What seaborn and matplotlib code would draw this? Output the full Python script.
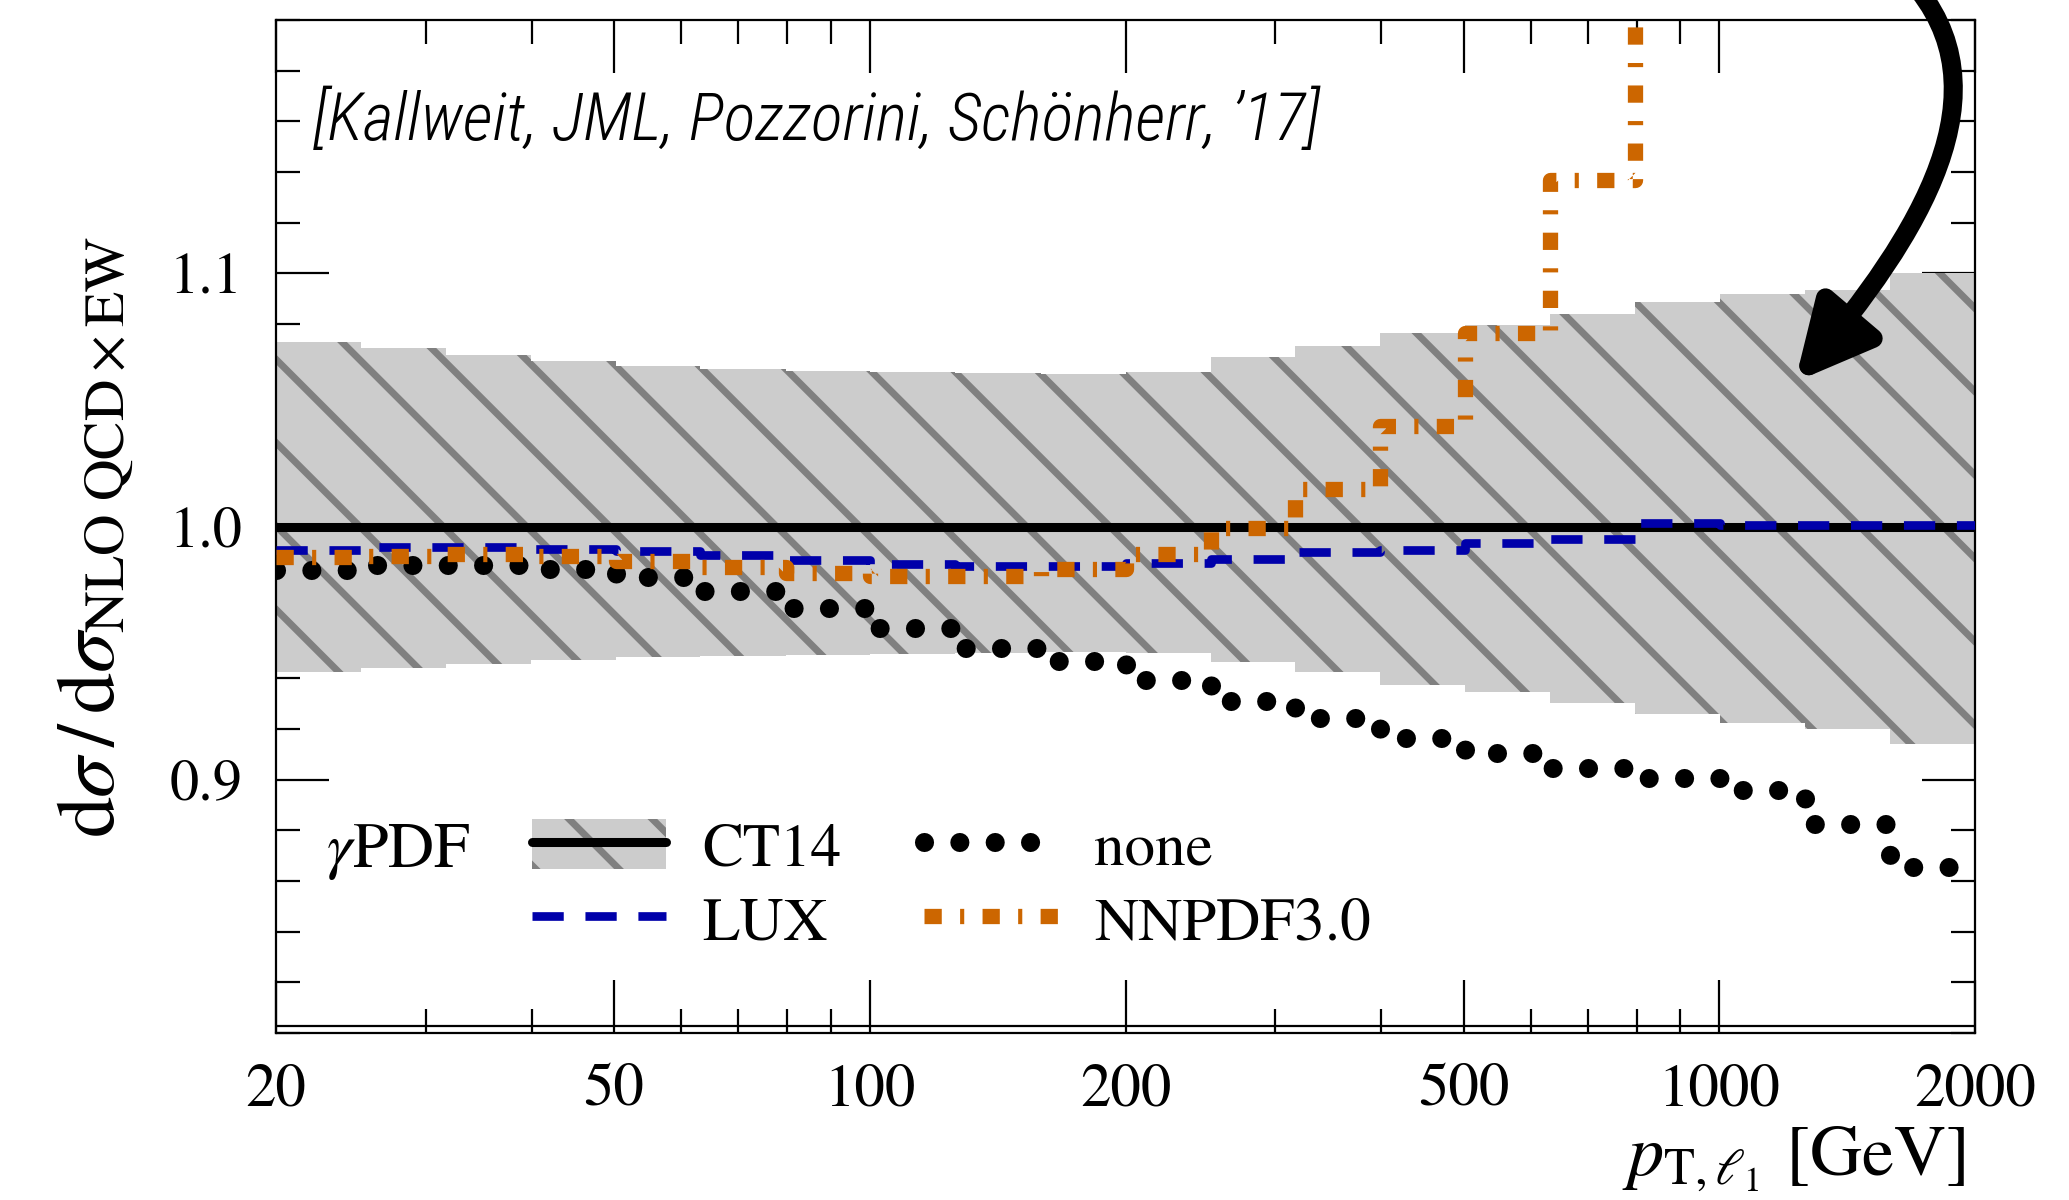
import matplotlib
matplotlib.use("Agg")
import matplotlib.pyplot as plt
import numpy as np
import pandas as pd
import seaborn as sns
from matplotlib import font_manager
from matplotlib.ticker import FixedLocator, FixedFormatter, LogLocator, MultipleLocator, NullFormatter
from matplotlib.patches import Patch, FancyArrowPatch, ArrowStyle
from matplotlib.lines import Line2D
from matplotlib.path import Path
from matplotlib.legend_handler import HandlerTuple

# leading-lepton pT bin edges [GeV]
pt_edges = [20, 25.2, 31.7, 39.9, 50.2, 63.2, 79.6, 100, 126, 159, 200,
            252, 317, 399, 502, 632, 796, 1002, 1262, 1589, 2000]

# ratio to NLO QCDxEW with CT14 photon PDF (central value and uncertainty band)
ct14_central = [1.0, 1.0, 1.0, 1.0, 1.0, 1.0, 1.0, 1.0, 1.0, 1.0,
                1.0, 1.0, 1.0, 1.0, 1.0, 1.0, 1.0, 1.0, 1.0, 1.0]
ct14_upper = [1.0730, 1.0705, 1.0678, 1.0655, 1.0635, 1.0622, 1.0615, 1.0610, 1.0607, 1.0603,
              1.0612, 1.0668, 1.0712, 1.0765, 1.0795, 1.0840, 1.0885, 1.0920, 1.0935, 1.1000]
ct14_lower = [0.9425, 0.9440, 0.9458, 0.9474, 0.9484, 0.9490, 0.9494, 0.9497, 0.9500, 0.9503,
              0.9501, 0.9464, 0.9425, 0.9375, 0.9346, 0.9305, 0.9260, 0.9225, 0.9200, 0.9140]

# other photon PDF choices
lux_ratio = [0.9907, 0.9918, 0.9920, 0.9912, 0.9905, 0.9888, 0.9867, 0.9852, 0.9846, 0.9846,
             0.9856, 0.9873, 0.9900, 0.9906, 0.9935, 0.9952, 1.0012, 1.0004, 1.0004, 1.0004]
none_ratio = [0.9830, 0.9847, 0.9848, 0.9832, 0.9800, 0.9745, 0.9677, 0.9600, 0.9520, 0.9470,
              0.9392, 0.9310, 0.9242, 0.9166, 0.9107, 0.9046, 0.9007, 0.8960, 0.8824, 0.8656]
# the last four NNPDF3.0 bins lie above the plotted range
nnpdf_ratio = [0.9880, 0.9885, 0.9890, 0.9885, 0.9865, 0.9840, 0.9818, 0.9803, 0.9805, 0.9832,
               0.9890, 0.9995, 1.0147, 1.0395, 1.0764, 1.1370, 1.2500, 1.3500, 1.4500, 1.5500]

xticks = [20, 50, 100, 200, 500, 1000, 2000]
xtick_labels = ["20", "50", "100", "200", "500", "1000", "2000"]

sns.set_theme(style="ticks")
plt.rcParams["font.family"] = ["STIXGeneral", "DejaVu Serif"]
plt.rcParams["mathtext.fontset"] = "stix"
plt.rcParams["text.color"] = "black"
plt.rcParams["axes.labelcolor"] = "black"
plt.rcParams["hatch.color"] = "#808080"
plt.rcParams["hatch.linewidth"] = 2.0

DPI = 250
BAND = "#cccccc"
HATCH = "\\"
BLUE = "#0000aa"
ORANGE = "#cc6600"
DOTS = (0, (0.001, 1.85))
DASH = (0, (3.6, 2.5))
DASHDOT = (0, (1.13, 1.2, 0.27, 1.2))

# light, narrow italic face for the citation tag
try:
    font_manager.findfont(font_manager.FontProperties(family="Roboto Condensed"),
                          fallback_to_default=False)
    CITE_FONT, CITE_SIZE = "Roboto Condensed", 19.2
except ValueError:
    CITE_FONT, CITE_SIZE = "Roboto", 16.5

fig = plt.figure(figsize=(2069 / DPI, 1200 / DPI), dpi=DPI)
ax = fig.add_axes([0.1334, 0.13917, 0.82117, 0.84416])
ax.set_xscale("log")


def stairs(values):
    return pd.DataFrame({"pt": pt_edges, "ratio": list(values) + [values[-1]]})


# CT14 uncertainty band
ax.fill_between(pt_edges, ct14_lower + [ct14_lower[-1]], ct14_upper + [ct14_upper[-1]],
                step="post", facecolor=BAND, edgecolor="#808080", hatch=HATCH,
                linewidth=0, zorder=1)

sns.lineplot(data=stairs(ct14_central), x="pt", y="ratio", ax=ax, drawstyle="steps-post",
             color="black", linewidth=2.6, zorder=3)
sns.lineplot(data=stairs(none_ratio), x="pt", y="ratio", ax=ax, drawstyle="steps-post",
             color="black", linewidth=5.5, linestyle=DOTS,
             dash_capstyle="round", zorder=4)
sns.lineplot(data=stairs(lux_ratio), x="pt", y="ratio", ax=ax, drawstyle="steps-post",
             color=BLUE, linewidth=2.5, linestyle=DASH, zorder=5)
sns.lineplot(data=stairs(nnpdf_ratio), x="pt", y="ratio", ax=ax, drawstyle="steps-post",
             color=ORANGE, linewidth=4.4, linestyle=DASHDOT, zorder=6)

# second baseline just above the lower frame
ax.axhline(0.80275, color="black", linewidth=0.64, zorder=7)

ax.set_xlim(20, 2000)
ax.set_ylim(0.8, 1.2)

ax.xaxis.set_major_locator(FixedLocator(xticks))
ax.xaxis.set_major_formatter(FixedFormatter(xtick_labels))
ax.xaxis.set_minor_locator(LogLocator(base=10, subs=[2, 3, 4, 5, 6, 7, 8, 9]))
ax.xaxis.set_minor_formatter(NullFormatter())
ax.yaxis.set_major_locator(FixedLocator([0.9, 1.0, 1.1]))
ax.yaxis.set_major_formatter(FixedFormatter(["0.9", "1.0", "1.1"]))
ax.yaxis.set_minor_locator(MultipleLocator(0.02))

ax.tick_params(which="both", direction="in", top=True, right=True, color="black",
               width=0.64, labelsize=16.8, labelcolor="black")
ax.tick_params(axis="x", which="both", labelsize=17.5)
ax.tick_params(which="major", length=15.2, pad=9.6)
ax.tick_params(which="minor", length=7.0)
ax.tick_params(axis="x", which="major", pad=9.0)
for side in ("left", "right", "top", "bottom"):
    ax.spines[side].set_color("black")
    ax.spines[side].set_linewidth(0.64)
ax.set_facecolor("white")
ax.grid(False)

ax.set_ylabel(r"$\mathrm{d}\sigma\,/\,\mathrm{d}\sigma_{\mathrm{NLO\ QCD}\times\mathrm{EW}}$",
              fontsize=23.6, labelpad=10)
ax.yaxis.label.set_y(0.49)
ax.set_xlabel(r"$p_{\mathrm{T},\ell_1}$ [GeV]", fontsize=20.8, loc="right", labelpad=1.6)
ax.xaxis.label.set_x(0.9945)

ax.text(0.0218, 0.8815, "[Kallweit, JML, Pozzorini, Sch\u00f6nherr, \u201917]",
        transform=ax.transAxes, ha="left", va="baseline", fontsize=CITE_SIZE, color="black",
        family=[CITE_FONT, "Lato", "DejaVu Sans"], style="italic", weight="light")

# legend
ct14_handle = (Patch(facecolor=BAND, edgecolor="#808080", hatch=HATCH, linewidth=0),
               Line2D([], [], color="black", linewidth=2.6))
lux_handle = Line2D([], [], color=BLUE, linewidth=2.5, linestyle=DASH)
none_handle = Line2D([], [], color="black", linewidth=5.5, linestyle=DOTS,
                     dash_capstyle="round")
nnpdf_handle = Line2D([], [], color=ORANGE, linewidth=4.4, linestyle=DASHDOT)
leg = ax.legend([ct14_handle, lux_handle, none_handle, nnpdf_handle],
                ["CT14", "LUX", "none", "NNPDF3.0"], ncol=2, loc="upper left",
                bbox_to_anchor=(0.1507, 0.2116), borderaxespad=0, borderpad=0,
                frameon=False, fontsize=17.6, handlelength=2.19, handleheight=0.9,
                handletextpad=0.59, columnspacing=1.36, labelspacing=0.24,
                handler_map={tuple: HandlerTuple(ndivide=1, pad=0)})
leg.set_zorder(10)
ax.text(0.0294, 0.1639, r"$\gamma$PDF", transform=ax.transAxes, ha="left",
        va="baseline", fontsize=18.4)

# curved arrow pointing into the band
arrow_path = Path([(0.92315, 1.01667), (0.97148, 0.925), (0.92798, 0.80417), (0.86757, 0.68167)],
                  [Path.MOVETO, Path.CURVE4, Path.CURVE4, Path.CURVE4])
arrow = FancyArrowPatch(path=arrow_path, transform=fig.transFigure,
                        arrowstyle=ArrowStyle("-|>", head_length=18, head_width=9),
                        mutation_scale=1, linewidth=5.5, color="black", clip_on=False,
                        zorder=20)
fig.add_artist(arrow)

fig.savefig("out.png", dpi=DPI)
